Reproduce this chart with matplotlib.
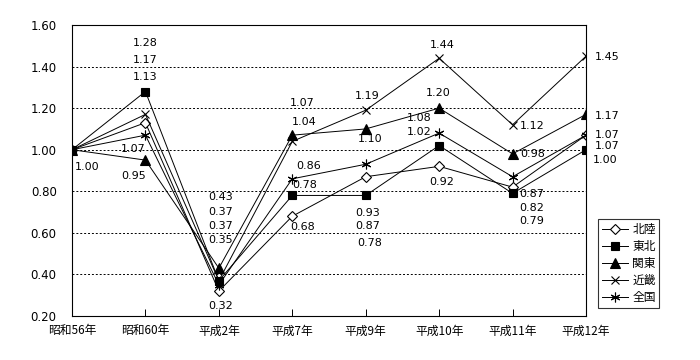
import matplotlib
matplotlib.use("Agg")
import matplotlib.pyplot as plt

plt.rcParams['font.family'] = ['Noto Sans CJK JP', 'DejaVu Sans']

# --- Data ---
years = ["昭和56年", "昭和60年", "平成2年", "平成7年", "平成9年", "平成10年", "平成11年", "平成12年"]
hokuriku = [1.00, 1.13, 0.32, 0.68, 0.87, 0.92, 0.82, 1.07]
tohoku   = [1.00, 1.28, 0.37, 0.78, 0.78, 1.02, 0.79, 1.00]
kanto    = [1.00, 0.95, 0.43, 1.07, 1.10, 1.20, 0.98, 1.17]
kinki    = [1.00, 1.17, 0.37, 1.04, 1.19, 1.44, 1.12, 1.45]
zenkoku  = [1.00, 1.07, 0.35, 0.86, 0.93, 1.08, 0.87, 1.07]

# --- Label offsets (pixels) for each series / point; None = no label ---
off_hokuriku = [None, (0, 46), (2, -15), (10, -11), (2, -49), (3, -16), (19, -21), (21, -11)]
off_tohoku   = [(15, -17), (0, 49), (2, 69), (12, 10), (4, -48), (-20, 14), (19, -28), (19, -10)]
off_kanto    = [None, (-12, -16), (2, 71), (10, 32), (4, -10), (-1, 15), (20, 0), (21, -2)]
off_kinki    = [None, (0, 54), (2, 55), (12, 19), (1, 14), (3, 13), (20, -1), (21, -1)]
off_zenkoku  = [None, (-12, -14), (2, 45), (16, 13), (2, -49), (-20, 15), (19, -17), (21, 0)]

series = [
    ("北陸", hokuriku, off_hokuriku, dict(marker='D', markersize=5, markerfacecolor='white')),
    ("東北", tohoku, off_tohoku, dict(marker='s', markersize=6, markerfacecolor='black')),
    ("関東", kanto, off_kanto, dict(marker='^', markersize=7, markerfacecolor='black')),
    ("近畿", kinki, off_kinki, dict(marker='x', markersize=6)),
    ("全国", zenkoku, off_zenkoku, dict(marker=(6, 2, 0), markersize=7)),
]

fig = plt.figure(figsize=(7, 3.6), dpi=100)
ax = fig.add_axes([72 / 700, 44 / 360, 514 / 700, 291 / 360])

x = list(range(len(years)))
for name, vals, offs, style in series:
    ax.plot(x, vals, color='black', linewidth=0.7, markeredgecolor='black',
            markeredgewidth=0.8, label=name, zorder=3, **style)
    for xi, v, o in zip(x, vals, offs):
        if o is None:
            continue
        ax.annotate(f"{v:.2f}", (xi, v), xytext=o, textcoords='offset pixels',
                    ha='center', va='center', fontsize=8, family=['DejaVu Sans'])

ax.set_xlim(0, len(years) - 1)
ax.set_ylim(0.2, 1.6)
ax.set_yticks([0.2, 0.4, 0.6, 0.8, 1.0, 1.2, 1.4, 1.6])
ax.set_yticklabels([f"{t:.2f}" for t in ax.get_yticks()], family=['DejaVu Sans'])
ax.set_xticks(x)
ax.set_xticklabels(years)
for g in [0.4, 0.6, 0.8, 1.0, 1.2, 1.4]:
    ax.axhline(g, color='black', linestyle=(0, (2, 2)), linewidth=0.7, zorder=1)

ax.tick_params(axis='y', length=0, pad=11, labelsize=8.5)
ax.tick_params(axis='x', direction='in', length=5, width=0.7, pad=6, labelsize=8.5)
for s in ax.spines.values():
    s.set_linewidth(0.8)

leg = ax.legend(loc='lower left', bbox_to_anchor=(598 / 700, 52 / 360),
                bbox_transform=fig.transFigure, frameon=True, fancybox=False,
                fontsize=8.5, handlelength=2.2, borderpad=0.3, labelspacing=0.35,
                handletextpad=0.4, borderaxespad=0)
leg.get_frame().set_edgecolor('black')
leg.get_frame().set_linewidth(0.8)

fig.savefig("out.png", dpi=100)
